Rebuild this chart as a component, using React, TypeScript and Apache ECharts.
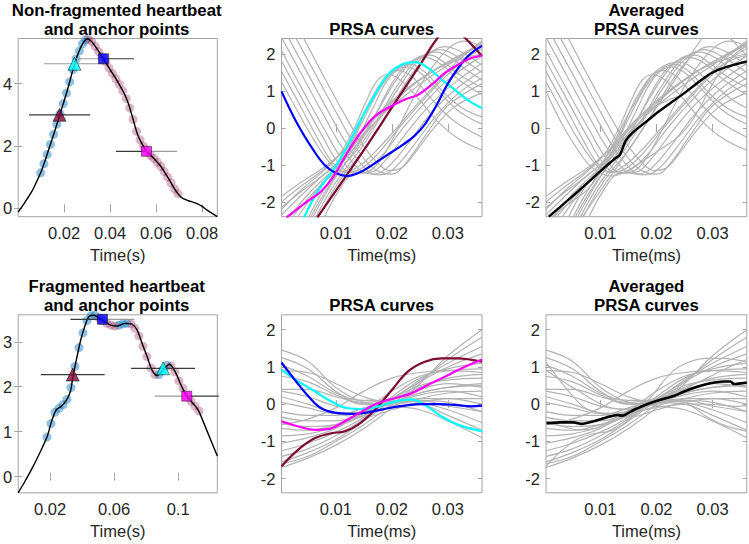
import React, { useEffect, useRef } from 'react';
import * as echarts from 'echarts';

type Pt = [number, number];

// ---------- Panel 1: non-fragmented heartbeat ----------
const hb1Time = [0, 0.003, 0.006, 0.008, 0.01, 0.012, 0.014, 0.016, 0.018, 0.02, 0.022, 0.024, 0.026, 0.028, 0.0302, 0.032, 0.034, 0.0371, 0.04, 0.043, 0.046, 0.048, 0.05, 0.052, 0.054, 0.0558, 0.058, 0.06, 0.062, 0.064, 0.066, 0.068, 0.07, 0.072, 0.075, 0.078, 0.08, 0.082, 0.084, 0.0866];
const hb1Value = [-0.12, 0.2, 0.55, 0.85, 1.18, 1.6, 2.05, 2.5, 2.98, 3.45, 3.95, 4.5, 4.95, 5.28, 5.44, 5.35, 5.15, 4.8, 4.45, 4.1, 3.7, 3.35, 2.85, 2.35, 2.05, 1.83, 1.68, 1.52, 1.35, 1.12, 0.88, 0.62, 0.42, 0.3, 0.22, 0.14, 0.06, -0.05, -0.15, -0.27];
const hb1UpT = [0.0098, 0.0112, 0.0126, 0.014, 0.0154, 0.0168, 0.0182, 0.0196, 0.021, 0.0224, 0.0238, 0.0252, 0.0266, 0.028, 0.0294];
const hb1UpV = [1.14, 1.43, 1.73, 2.05, 2.37, 2.7, 3.03, 3.36, 3.7, 4.06, 4.45, 4.8, 5.05, 5.28, 5.41];
const hb1DownT = [0.0305, 0.032, 0.0335, 0.035, 0.0365, 0.038, 0.0395, 0.041, 0.0425, 0.044, 0.0455, 0.047, 0.0485, 0.05, 0.0515, 0.053, 0.0545, 0.056, 0.0575, 0.059, 0.0605, 0.062, 0.0635, 0.065, 0.0665, 0.068, 0.0695];
const hb1DownV = [5.43, 5.35, 5.2, 5.03, 4.87, 4.7, 4.5, 4.33, 4.16, 3.98, 3.77, 3.52, 3.22, 2.85, 2.47, 2.2, 2.0, 1.82, 1.7, 1.6, 1.48, 1.35, 1.18, 1.0, 0.82, 0.62, 0.47];
const hb1AnchorT = [0.018, 0.0245, 0.0371, 0.0558];
const hb1AnchorV = [3.0, 4.64, 4.8, 1.83];
const hb1Half = 0.0133;

// ---------- Panel 4: fragmented heartbeat ----------
const hb2Time = [0, 0.004, 0.0082, 0.0134, 0.018, 0.021, 0.0237, 0.0268, 0.03, 0.0327, 0.0341, 0.0361, 0.0392, 0.0423, 0.0444, 0.0475, 0.0505, 0.0527, 0.0578, 0.0619, 0.0671, 0.0713, 0.0744, 0.0775, 0.0806, 0.0837, 0.0868, 0.0906, 0.0946, 0.0982, 0.1023, 0.1054, 0.1095, 0.1126, 0.1178, 0.1245];
const hb2Value = [-0.36, -0.12, 0.15, 0.52, 0.88, 1.24, 1.48, 1.56, 1.69, 1.9, 2.2, 2.55, 3.05, 3.41, 3.57, 3.59, 3.53, 3.48, 3.37, 3.35, 3.41, 3.39, 3.26, 2.96, 2.67, 2.37, 2.25, 2.37, 2.5, 2.33, 2.0, 1.79, 1.62, 1.48, 1.04, 0.46];
const hb2UpT = [0.018, 0.0205, 0.023, 0.0255, 0.028, 0.0305, 0.033, 0.0355, 0.038, 0.0405, 0.043, 0.0455, 0.048, 0.063, 0.0655, 0.068, 0.088, 0.0905, 0.093];
const hb2UpV = [0.88, 1.18, 1.43, 1.52, 1.6, 1.72, 1.98, 2.45, 2.87, 3.2, 3.47, 3.58, 3.59, 3.37, 3.4, 3.41, 2.27, 2.37, 2.48];
const hb2DownT = [0.0505, 0.053, 0.0555, 0.058, 0.0605, 0.0705, 0.073, 0.0755, 0.078, 0.0805, 0.083, 0.0855, 0.0955, 0.098, 0.1005, 0.103, 0.1055, 0.108, 0.1105, 0.113];
const hb2DownV = [3.53, 3.47, 3.41, 3.37, 3.35, 3.4, 3.3, 3.13, 2.9, 2.67, 2.42, 2.27, 2.46, 2.33, 2.13, 1.97, 1.79, 1.68, 1.57, 1.46];
const hb2AnchorT = [0.0341, 0.0527, 0.0906, 0.1054];
const hb2AnchorV = [2.27, 3.5, 2.41, 1.79];
const hb2Half = 0.02;

// ---------- Top PRSA curves ----------
const prsaTopGray: Pt[][] = [
  [[0.0003, 1.25], [0.003, 0.5], [0.006, -0.3], [0.009, -0.95], [0.0115, -1.2], [0.014, -1.05], [0.017, -0.65], [0.02, -0.15], [0.024, 0.55], [0.028, 1.2], [0.032, 1.85], [0.0361, 2.3]],
  [[0.0003, 1.53], [0.004, 0.5], [0.007, -0.35], [0.0095, -0.95], [0.012, -1.2], [0.0145, -1.1], [0.0175, -0.7], [0.021, -0.05], [0.025, 0.65], [0.029, 1.3], [0.033, 1.85], [0.0361, 2.15]],
  [[0.0003, 1.81], [0.004, 0.78], [0.008, -0.33], [0.0105, -0.95], [0.013, -1.22], [0.0155, -1.12], [0.0185, -0.7], [0.022, 0.0], [0.026, 0.7], [0.03, 1.3], [0.0361, 1.95]],
  [[0.0003, 2.09], [0.004, 1.05], [0.008, -0.05], [0.011, -0.82], [0.0135, -1.2], [0.016, -1.2], [0.019, -0.85], [0.0225, -0.15], [0.027, 0.65], [0.031, 1.2], [0.0361, 1.75]],
  [[0.0003, 2.45], [0.004, 1.42], [0.008, 0.3], [0.011, -0.5], [0.014, -1.1], [0.0165, -1.25], [0.019, -1.1], [0.0225, -0.5], [0.027, 0.4], [0.031, 1.0], [0.0361, 1.55]],
  [[0.0015, 2.45], [0.005, 1.47], [0.009, 0.35], [0.012, -0.45], [0.015, -1.05], [0.0175, -1.27], [0.02, -1.15], [0.0235, -0.55], [0.028, 0.35], [0.032, 0.95], [0.0361, 1.35]],
  [[0.0028, 2.45], [0.0065, 1.42], [0.0105, 0.3], [0.0135, -0.5], [0.016, -1.0], [0.018, -1.2], [0.02, -1.25], [0.0225, -0.95], [0.026, -0.2], [0.03, 0.6], [0.0361, 1.2]],
  [[0.0042, 2.45], [0.008, 1.35], [0.012, 0.25], [0.015, -0.5], [0.0175, -0.95], [0.0195, -1.15], [0.0215, -1.1], [0.024, -0.7], [0.027, -0.1], [0.031, 0.55], [0.0361, 0.95]],
  [[0.0003, -2.2], [0.004, -1.65], [0.0075, -1.2], [0.0105, -0.75], [0.013, -0.1], [0.0155, 0.75], [0.0175, 1.3], [0.0193, 1.44], [0.0215, 1.3], [0.025, 0.75], [0.028, 0.2], [0.032, -0.3], [0.0361, -0.6]],
  [[0.0003, -2.35], [0.004, -1.8], [0.0075, -1.3], [0.0105, -0.9], [0.0135, -0.15], [0.016, 0.7], [0.019, 1.4], [0.021, 1.55], [0.0235, 1.4], [0.027, 0.8], [0.031, 0.2], [0.0361, -0.25]],
  [[0.0015, -2.45], [0.005, -1.8], [0.008, -1.35], [0.0105, -1.0], [0.0135, -0.4], [0.0165, 0.5], [0.0195, 1.35], [0.0225, 1.65], [0.025, 1.5], [0.028, 1.05], [0.032, 0.45], [0.0361, 0.1]],
  [[0.003, -2.45], [0.0065, -1.7], [0.0095, -1.15], [0.012, -0.65], [0.015, 0.25], [0.018, 1.1], [0.0205, 1.55], [0.0232, 1.72], [0.026, 1.5], [0.029, 1.0], [0.0325, 0.55], [0.0361, 0.3]],
  [[0.005, -2.45], [0.0075, -1.75], [0.0105, -1.05], [0.0135, -0.5], [0.0165, 0.2], [0.02, 1.2], [0.023, 1.75], [0.026, 1.9], [0.029, 1.7], [0.032, 1.3], [0.0361, 0.9]],
  [[0.0054, -2.45], [0.008, -1.75], [0.011, -1.1], [0.0145, -0.35], [0.018, 0.6], [0.0215, 1.45], [0.0245, 1.9], [0.0268, 1.97], [0.0295, 1.75], [0.0325, 1.4], [0.0361, 1.1]],
  [[0.0058, -2.45], [0.0085, -1.7], [0.011, -1.1], [0.014, -0.55], [0.0175, 0.25], [0.021, 1.15], [0.0245, 1.85], [0.0277, 2.05], [0.0305, 1.9], [0.033, 1.6], [0.0361, 1.3]],
  [[0.0063, -2.45], [0.009, -1.7], [0.0115, -1.15], [0.0145, -0.55], [0.018, 0.3], [0.0215, 1.15], [0.025, 1.85], [0.0286, 2.12], [0.0315, 1.95], [0.0361, 1.5]],
  [[0.0068, -2.45], [0.0095, -1.7], [0.012, -1.15], [0.015, -0.6], [0.0185, 0.2], [0.022, 1.1], [0.026, 1.9], [0.0295, 2.2], [0.0325, 2.05], [0.0361, 1.7]],
  [[0.0078, -2.45], [0.0105, -1.7], [0.013, -1.25], [0.0155, -1.2], [0.018, -0.85], [0.021, -0.05], [0.024, 0.85], [0.027, 1.6], [0.0305, 2.2], [0.033, 2.35], [0.0361, 2.2]],
  [[0.0003, -2.0], [0.004, -1.55], [0.008, -1.1], [0.0115, -0.6], [0.015, 0.0], [0.019, 0.6], [0.023, 1.1], [0.027, 1.5], [0.031, 1.85], [0.0361, 2.25]],
  [[0.0003, -2.15], [0.004, -1.7], [0.008, -1.25], [0.011, -0.85], [0.015, -0.15], [0.019, 0.45], [0.023, 0.95], [0.027, 1.4], [0.031, 1.8], [0.0361, 2.35]],
  [[0.0003, -1.85], [0.004, -1.45], [0.008, -1.05], [0.012, -0.55], [0.016, 0.1], [0.02, 0.7], [0.024, 1.2], [0.028, 1.6], [0.032, 1.85], [0.0361, 2.0]],
  [[0.002, -2.45], [0.006, -1.75], [0.01, -1.15], [0.013, -0.6], [0.017, 0.15], [0.021, 0.8], [0.025, 1.3], [0.029, 1.7], [0.0361, 2.3]],
];
const prsaTopMaroon: Pt[] = [[0.0067, -2.42], [0.01, -1.7], [0.015, -0.6], [0.02, 0.55], [0.025, 1.7], [0.028, 2.4], [0.0305, 2.8], [0.033, 2.45], [0.0361, 1.95]];
const prsaTopCyan: Pt[] = [[0.0043, -2.42], [0.0068, -1.71], [0.0098, -1.08], [0.0122, -0.45], [0.0146, 0.27], [0.017, 0.9], [0.0193, 1.44], [0.0217, 1.71], [0.0241, 1.78], [0.0265, 1.62], [0.0289, 1.31], [0.0312, 1.04], [0.0339, 0.72], [0.0361, 0.54]];
const prsaTopBlue: Pt[] = [[0.0003, 0.99], [0.003, 0.15], [0.006, -0.6], [0.008, -1.0], [0.01, -1.22], [0.012, -1.3], [0.014, -1.22], [0.016, -1.05], [0.018, -0.85], [0.02, -0.65], [0.022, -0.45], [0.024, -0.22], [0.026, 0.12], [0.028, 0.62], [0.03, 1.2], [0.032, 1.65], [0.034, 2.0], [0.0361, 2.22]];
const prsaTopMagenta: Pt[] = [[0.0012, -2.42], [0.0045, -2.03], [0.0074, -1.71], [0.0098, -1.26], [0.0122, -0.63], [0.0146, -0.09], [0.017, 0.32], [0.0193, 0.54], [0.0223, 0.77], [0.0247, 0.9], [0.0271, 1.17], [0.0295, 1.49], [0.0318, 1.71], [0.0342, 1.89], [0.0361, 1.96]];
const prsaTopAverage: Pt[] = [[0.0008, -2.4], [0.004, -1.98], [0.007, -1.58], [0.01, -1.17], [0.0125, -0.84], [0.0135, -0.72], [0.0145, -0.35], [0.0158, -0.12], [0.018, 0.15], [0.02, 0.4], [0.022, 0.62], [0.025, 0.95], [0.028, 1.3], [0.03, 1.5], [0.0325, 1.65], [0.0361, 1.8]];

// ---------- Bottom PRSA curves ----------
const prsaBotT = [0.0003, 0.005, 0.01, 0.015, 0.02, 0.025, 0.03, 0.0361];
const prsaBotGray: number[][] = [
  [1.45, 1.15, 0.45, 0.05, -0.05, -0.15, -0.45, -0.9],
  [1.25, 0.95, 0.35, 0.0, 0.05, 0.0, -0.3, -0.7],
  [1.05, 0.75, 0.3, 0.1, 0.1, 0.05, -0.15, -0.5],
  [0.9, 0.85, 0.55, 0.2, 0.05, 0.1, 0.05, -0.2],
  [0.75, 0.6, 0.25, 0.0, 0.05, 0.25, 0.35, 0.2],
  [0.4, 0.4, 0.2, 0.05, 0.15, 0.4, 0.55, 0.45],
  [0.35, 0.2, -0.05, -0.15, 0.0, 0.15, 0.15, 0.0],
  [-1.7, -1.45, -1.1, -0.65, -0.1, 0.55, 1.3, 2.0],
  [-1.6, -1.4, -1.0, -0.55, 0.0, 0.6, 1.2, 1.8],
  [-1.55, -1.3, -0.95, -0.45, 0.1, 0.65, 1.1, 1.55],
  [-1.4, -1.2, -0.85, -0.4, 0.15, 0.6, 1.0, 1.35],
  [-1.25, -1.05, -0.75, -0.35, 0.2, 0.7, 0.95, 1.1],
  [-1.05, -0.9, -0.65, -0.2, 0.35, 0.75, 0.9, 0.95],
  [-0.85, -0.8, -0.6, -0.3, 0.1, 0.45, 0.7, 0.8],
  [-0.35, -0.45, -0.45, -0.2, 0.15, 0.5, 0.65, 0.7],
  [-0.5, -0.6, -0.55, -0.25, 0.05, 0.3, 0.45, 0.5],
  [-0.65, -0.7, -0.55, -0.3, -0.05, 0.15, 0.3, 0.35],
  [0.05, -0.1, -0.25, -0.2, 0.05, 0.3, 0.45, 0.55],
  [-0.2, -0.3, -0.3, -0.1, 0.1, 0.1, -0.05, -0.2],
  [0.2, 0.0, -0.25, -0.35, -0.15, 0.05, 0.15, 0.15],
  [-0.55, -0.4, -0.1, 0.35, 0.7, 0.85, 0.9, 0.85],
];
const prsaBotMaroon: Pt[] = [[0.0003, -1.67], [0.0033, -1.22], [0.0063, -0.91], [0.0092, -0.78], [0.0116, -0.73], [0.014, -0.55], [0.017, -0.15], [0.02, 0.38], [0.0229, 0.88], [0.0259, 1.14], [0.0289, 1.23], [0.0318, 1.23], [0.0342, 1.19], [0.0361, 1.14]];
const prsaBotMagenta: Pt[] = [[0.0003, -0.46], [0.0033, -0.6], [0.0063, -0.69], [0.0086, -0.67], [0.0116, -0.46], [0.0146, -0.2], [0.0176, 0.03], [0.0205, 0.16], [0.0235, 0.29], [0.0265, 0.52], [0.0295, 0.74], [0.0324, 0.96], [0.0361, 1.2]];
const prsaBotBlue: Pt[] = [[0.0003, 1.12], [0.0027, 0.65], [0.0051, 0.21], [0.0074, -0.11], [0.0104, -0.24], [0.0134, -0.26], [0.0164, -0.2], [0.0193, -0.11], [0.0223, -0.04], [0.0253, 0.0], [0.0283, 0.0], [0.0312, -0.02], [0.0342, -0.06], [0.0361, -0.04]];
const prsaBotCyan: Pt[] = [[0.0003, 0.92], [0.0033, 0.61], [0.0063, 0.34], [0.0092, 0.07], [0.0122, -0.11], [0.0146, -0.13], [0.0176, -0.06], [0.0205, 0.07], [0.0235, 0.13], [0.0259, -0.02], [0.0289, -0.33], [0.0318, -0.55], [0.0361, -0.73]];
const prsaBotAverage: Pt[] = [[0.0004, -0.51], [0.0029, -0.49], [0.0052, -0.49], [0.0067, -0.53], [0.0088, -0.46], [0.0112, -0.35], [0.013, -0.29], [0.0139, -0.31], [0.016, -0.15], [0.0183, 0.0], [0.0207, 0.12], [0.0231, 0.22], [0.0249, 0.34], [0.0273, 0.47], [0.0296, 0.56], [0.032, 0.61], [0.0332, 0.61], [0.0338, 0.54], [0.0361, 0.58]];

// ---------- Axis ticks ----------
const hb1XTicks = [0.02, 0.04, 0.06, 0.08];
const hb1YTicks = [0, 2, 4];
const hb2XTicks = [0.02, 0.06, 0.1];
const hb2YTicks = [0, 1, 2, 3];
const prsaXTicks = [0.01, 0.02, 0.03];
const prsaYTicks = [-2, -1, 0, 1, 2];

// ---------- styles ----------
const FONT = 'Liberation Sans, Arial, Helvetica, sans-serif';
const TXT = '#262626';
const BOX = '#a3a3a3';
const GRAY = '#b3b3b3';
const MAROON = '#7f0a33';
const CYAN = '#00ffff';
const BLUE = '#0000ff';
const MAGENTA = '#ff00ff';
const DARK = '#3a3a3a';
const LIGHT = '#9a9a9a';
const UPDOT = 'rgba(0,114,189,0.55)';
const DOWNDOT = 'rgba(150,40,90,0.42)';
const TICK_FS = 16.5;
const TITLE_FS = 16.8;

const zip = (t: number[], v: number[]): Pt[] => t.map((x, i) => [x, v[i]]);

const grids = [
  { left: 16, top: 38.5, width: 201.3, height: 178.2 },
  { left: 281.5, top: 38.5, width: 200.5, height: 178.2 },
  { left: 546, top: 38.5, width: 200.8, height: 178.2 },
  { left: 16, top: 314.8, width: 201.3, height: 178 },
  { left: 281.5, top: 314.8, width: 200.5, height: 178 },
  { left: 546, top: 314.8, width: 200.8, height: 178 },
];

const axisSpec = [
  { x: [0, 0.0866], xt: hb1XTicks, y: [-0.27, 5.45], yt: hb1YTicks, name: 'Time(s)' },
  { x: [0.0003, 0.0361], xt: prsaXTicks, y: [-2.4, 2.42], yt: prsaYTicks, name: 'Time(ms)' },
  { x: [0.0003, 0.0361], xt: prsaXTicks, y: [-2.4, 2.42], yt: prsaYTicks, name: 'Time(ms)' },
  { x: [0, 0.1245], xt: hb2XTicks, y: [-0.36, 3.6], yt: hb2YTicks, name: 'Time(s)' },
  { x: [0.0003, 0.0361], xt: prsaXTicks, y: [-2.38, 2.4], yt: prsaYTicks, name: 'Time(ms)' },
  { x: [0.0003, 0.0361], xt: prsaXTicks, y: [-2.38, 2.4], yt: prsaYTicks, name: 'Time(ms)' },
];

function buildOption() {
  const xAxis: any[] = [];
  const yAxis: any[] = [];
  axisSpec.forEach((s, i) => {
    const tick = (vals: number[]) => ({ show: true, inside: true, length: 4, lineStyle: { color: BOX, width: 1 }, customValues: vals });
    xAxis.push({
      type: 'value', gridIndex: i, min: s.x[0], max: s.x[1], position: 'bottom',
      axisLine: { show: false }, splitLine: { show: false }, axisTick: tick(s.xt),
      axisLabel: { show: true, customValues: s.xt, formatter: (v: number) => String(v), margin: 8, fontSize: TICK_FS, color: TXT, fontFamily: FONT },
      name: s.name, nameLocation: 'middle', nameGap: 30,
      nameTextStyle: { fontSize: TICK_FS, color: TXT, fontFamily: FONT },
    });
    xAxis.push({
      type: 'value', gridIndex: i, min: s.x[0], max: s.x[1], position: 'top',
      axisLine: { show: false }, splitLine: { show: false }, axisTick: tick(s.xt), axisLabel: { show: false },
    });
    yAxis.push({
      type: 'value', gridIndex: i, min: s.y[0], max: s.y[1], position: 'left',
      axisLine: { show: false }, splitLine: { show: false }, axisTick: tick(s.yt),
      axisLabel: { show: true, customValues: s.yt, formatter: (v: number) => String(v), margin: 6, fontSize: TICK_FS, color: TXT, fontFamily: FONT },
    });
    yAxis.push({
      type: 'value', gridIndex: i, min: s.y[0], max: s.y[1], position: 'right',
      axisLine: { show: false }, splitLine: { show: false }, axisTick: tick(s.yt), axisLabel: { show: false },
    });
  });

  const series: any[] = [];
  const line = (gi: number, data: Pt[], color: string, width: number, smooth: boolean | number = 0.4) => {
    series.push({
      type: 'line', xAxisIndex: gi * 2, yAxisIndex: gi * 2, data, showSymbol: false, symbol: 'none',
      smooth, lineStyle: { color, width }, silent: true, clip: true,
    });
  };
  const dots = (gi: number, data: Pt[], color: string) => {
    series.push({
      type: 'scatter', xAxisIndex: gi * 2, yAxisIndex: gi * 2, data, symbolSize: 9,
      itemStyle: { color }, silent: true, clip: false,
    });
  };
  const marker = (gi: number, pt: Pt, symbol: string, color: string, size: number) => {
    series.push({
      type: 'scatter', xAxisIndex: gi * 2, yAxisIndex: gi * 2, data: [pt], symbol, symbolSize: size,
      itemStyle: { color, borderColor: '#000', borderWidth: 0.6 }, silent: true, clip: false, z: 5,
    });
  };

  const hb1Symbols = ['triangle', 'triangle', 'rect', 'rect'];
  const hb1Colors = [MAROON, CYAN, BLUE, MAGENTA];
  const hb1WinColors = [[DARK, DARK], [LIGHT, LIGHT], [LIGHT, DARK], [DARK, LIGHT]];
  const hb2Colors = [MAROON, BLUE, CYAN, MAGENTA];
  const hb2WinColors = [[DARK, DARK], [DARK, LIGHT], [DARK, DARK], [LIGHT, DARK]];
  const hb2Symbols = ['triangle', 'rect', 'triangle', 'rect'];

  // Panel 1
  dots(0, zip(hb1UpT, hb1UpV), UPDOT);
  dots(0, zip(hb1DownT, hb1DownV), DOWNDOT);
  line(0, zip(hb1Time, hb1Value), '#000', 1.4, 0.3);
  hb1AnchorT.forEach((t, k) => {
    const v = hb1AnchorV[k];
    line(0, [[t - hb1Half, v], [t, v]], hb1WinColors[k][0], 1.2, false);
    line(0, [[t, v], [t + hb1Half, v]], hb1WinColors[k][1], 1.2, false);
  });
  hb1AnchorT.forEach((t, k) => marker(0, [t, hb1AnchorV[k]], hb1Symbols[k], hb1Colors[k], hb1Symbols[k] === 'rect' ? 10 : 13));

  // Panel 4
  dots(3, zip(hb2UpT, hb2UpV), UPDOT);
  dots(3, zip(hb2DownT, hb2DownV), DOWNDOT);
  line(3, zip(hb2Time, hb2Value), '#000', 1.4, 0.3);
  hb2AnchorT.forEach((t, k) => {
    const v = hb2AnchorV[k];
    line(3, [[t - hb2Half, v], [t, v]], hb2WinColors[k][0], 1.2, false);
    line(3, [[t, v], [t + hb2Half, v]], hb2WinColors[k][1], 1.2, false);
  });
  hb2AnchorT.forEach((t, k) => marker(3, [t, hb2AnchorV[k]], hb2Symbols[k], hb2Colors[k], hb2Symbols[k] === 'rect' ? 10 : 13));

  // Panel 2 & 3
  const topColored = [prsaTopMaroon, prsaTopCyan, prsaTopBlue, prsaTopMagenta];
  [1, 2].forEach((gi) => {
    prsaTopGray.forEach((c) => line(gi, c, GRAY, 1.2));
    topColored.forEach((c) => line(gi, c, GRAY, 1.2));
  });
  line(1, prsaTopMaroon, MAROON, 2.2);
  line(1, prsaTopCyan, CYAN, 2.2);
  line(1, prsaTopBlue, BLUE, 2.2);
  line(1, prsaTopMagenta, MAGENTA, 2.2);
  line(2, prsaTopAverage, '#000', 2.4, 0.2);

  // Panel 5 & 6
  const botColored = [prsaBotMaroon, prsaBotMagenta, prsaBotBlue, prsaBotCyan];
  [4, 5].forEach((gi) => {
    prsaBotGray.forEach((vals) => line(gi, zip(prsaBotT, vals), GRAY, 1.2));
    botColored.forEach((c) => line(gi, c, GRAY, 1.2));
  });
  line(4, prsaBotMaroon, MAROON, 2.2);
  line(4, prsaBotCyan, CYAN, 2.2);
  line(4, prsaBotBlue, BLUE, 2.2);
  line(4, prsaBotMagenta, MAGENTA, 2.2);
  line(5, prsaBotAverage, '#000', 2.6, 0.2);

  const title = (x: number, y: number, text: string) => ({
    type: 'text', x, y, silent: true,
    style: { text, fill: '#000', fontSize: TITLE_FS, fontWeight: 'bold', fontFamily: FONT, align: 'center', verticalAlign: 'middle', textAlign: 'center', textVerticalAlign: 'middle' },
  });

  return {
    animation: false,
    backgroundColor: '#fff',
    grid: grids.map((g) => ({ ...g, show: true, borderColor: BOX, borderWidth: 1, backgroundColor: 'transparent', containLabel: false })),
    xAxis, yAxis, series,
    graphic: [
      title(116.7, 10, 'Non-fragmented heartbeat'),
      title(116.7, 29.5, 'and anchor points'),
      title(381.7, 29.5, 'PRSA curves'),
      title(646.4, 10, 'Averaged'),
      title(646.4, 29.5, 'PRSA curves'),
      title(116.7, 286, 'Fragmented heartbeat'),
      title(116.7, 305, 'and anchor points'),
      title(381.7, 305, 'PRSA curves'),
      title(646.4, 286, 'Averaged'),
      title(646.4, 305, 'PRSA curves'),
    ],
  };
}

export default function App() {
  const ref = useRef<HTMLDivElement>(null);
  useEffect(() => {
    if (!ref.current) return;
    const chart = echarts.init(ref.current, undefined, { renderer: 'svg' });
    chart.setOption(buildOption() as any);
    return () => chart.dispose();
  }, []);
  return <div ref={ref} style={{ position: 'absolute', left: 0, top: 0, width: 749, height: 544 }} />;
}
